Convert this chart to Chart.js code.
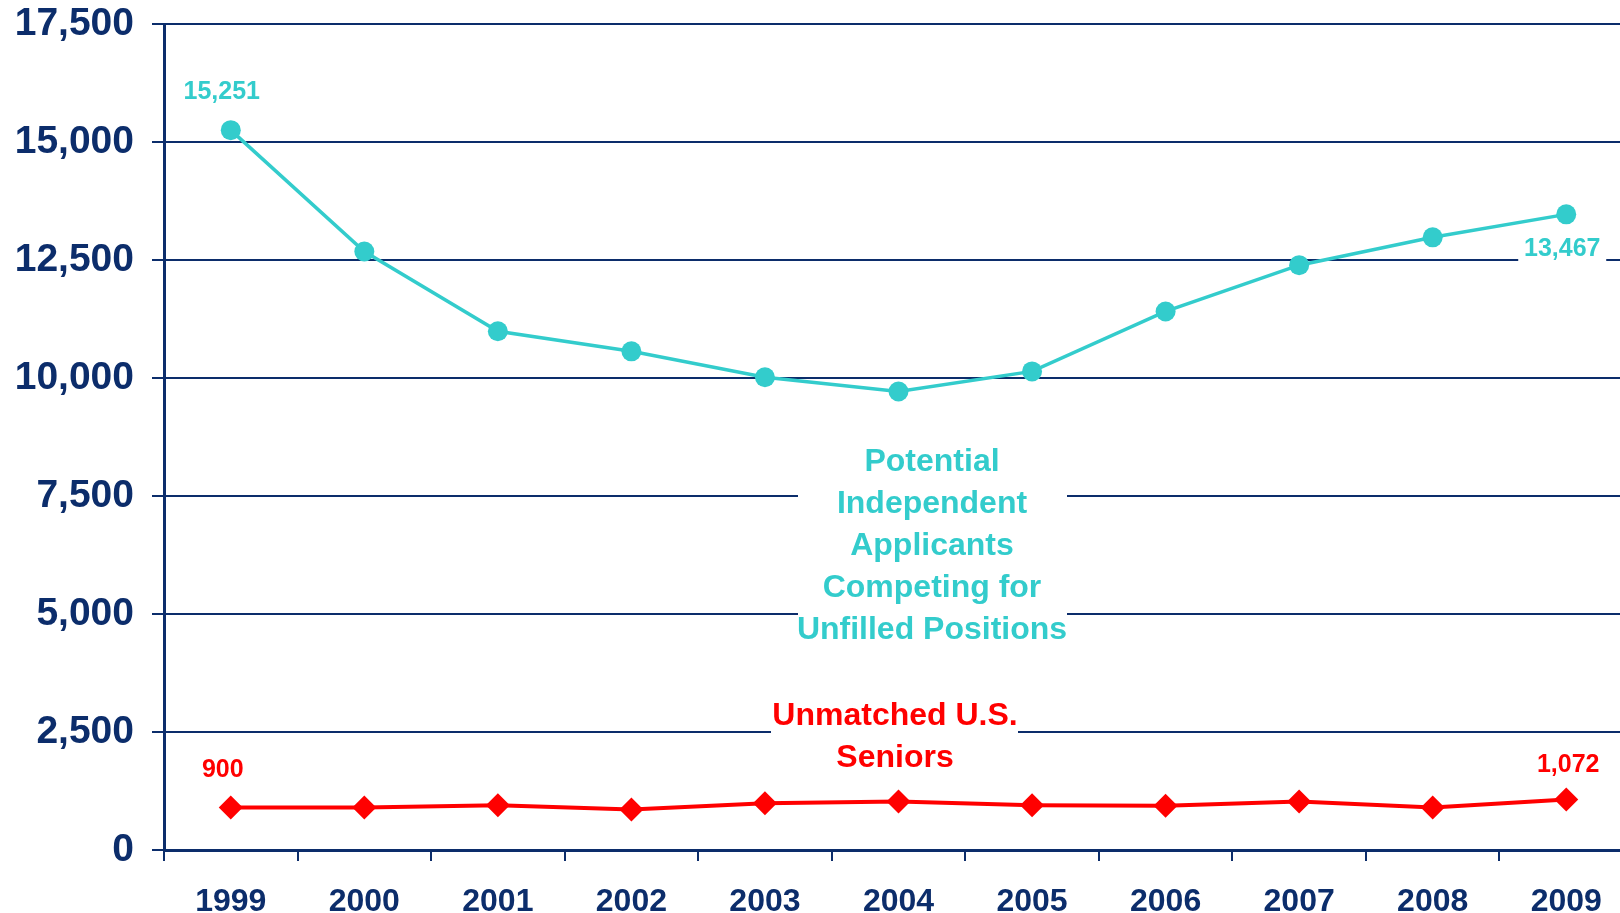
<!DOCTYPE html>
<html>
<head>
<meta charset="utf-8">
<script src="https://cdn.jsdelivr.net/npm/chart.js@4.4.1/dist/chart.umd.min.js"></script>
<style>
  html, body { margin: 0; padding: 0; background: #ffffff; overflow: hidden; width: 1620px; height: 913px; }
  #wrap { position: absolute; left: 0; top: 0; width: 1645px; height: 913px; }
</style>
</head>
<body>
<div id="wrap"><canvas id="c" width="1645" height="913"></canvas></div>
<script>
const years = ['1999','2000','2001','2002','2003','2004','2005','2006','2007','2008','2009'];
const independentApplicants = [15251, 12680, 10990, 10565, 10015, 9715, 10140, 11410, 12390, 12980, 13467];
const unmatchedSeniors = [900, 900, 950, 860, 990, 1025, 950, 935, 1025, 900, 1072];
const yTicks = [0, 2500, 5000, 7500, 10000, 12500, 15000, 17500];

const NAVY = '#0C2D6B';
const TEAL = '#33CCCC';
const RED = '#FF0000';
const FONT = '"Liberation Sans", Arial, Helvetica, sans-serif';

const fmt = v => v.toLocaleString('en-US');

const annotationPlugin = {
  id: 'annot',
  beforeDatasetsDraw(chart) {
    const ctx = chart.ctx;
    const o = chart.options.plugins.annot;
    ctx.save();
    ctx.fillStyle = '#ffffff';
    o.blocks.forEach(b => ctx.fillRect(b.box[0], b.box[1], b.box[2], b.box[3]));
    o.pointLabels.forEach(p => {
      if (p.box) {
        const el = chart.getDatasetMeta(p.ds).data[p.idx];
        ctx.fillRect(el.x + p.dx - p.box[0] / 2, el.y + p.dy - p.box[1] / 2, p.box[0], p.box[1]);
      }
    });
    ctx.restore();
  },
  afterDatasetsDraw(chart) {
    const ctx = chart.ctx;
    const o = chart.options.plugins.annot;
    ctx.save();
    ctx.textAlign = 'center';
    ctx.textBaseline = 'middle';
    o.blocks.forEach(b => {
      ctx.fillStyle = b.color;
      ctx.font = 'bold ' + b.size + 'px ' + FONT;
      b.lines.forEach((t, i) => ctx.fillText(t, b.x, b.y + i * b.lh));
    });
    o.pointLabels.forEach(p => {
      const ds = chart.data.datasets[p.ds];
      const el = chart.getDatasetMeta(p.ds).data[p.idx];
      ctx.fillStyle = ds.borderColor;
      ctx.font = 'bold 25px ' + FONT;
      ctx.fillText(fmt(ds.data[p.idx]), el.x + p.dx, el.y + p.dy);
    });
    ctx.restore();
  }
};

new Chart(document.getElementById('c'), {
  type: 'line',
  data: {
    labels: years,
    datasets: [
      {
        label: 'Potential Independent Applicants Competing for Unfilled Positions',
        data: independentApplicants,
        borderColor: TEAL,
        backgroundColor: TEAL,
        borderWidth: 3.5,
        tension: 0,
        pointStyle: 'circle',
        pointRadius: 10,
        pointBorderWidth: 0,
        pointBackgroundColor: TEAL
      },
      {
        label: 'Unmatched U.S. Seniors',
        data: unmatchedSeniors,
        borderColor: RED,
        backgroundColor: RED,
        borderWidth: 4,
        tension: 0,
        pointStyle: 'rectRot',
        pointRadius: 12,
        pointBorderWidth: 0,
        pointBackgroundColor: RED
      }
    ]
  },
  options: {
    responsive: false,
    animation: false,
    events: [],
    layout: { padding: { top: 24, right: 3, bottom: 0, left: 0 } },
    plugins: {
      legend: { display: false },
      tooltip: { enabled: false },
      annot: {
        blocks: [
          { lines: ['Potential', 'Independent', 'Applicants', 'Competing for', 'Unfilled Positions'],
            x: 932, y: 462, lh: 42, size: 32, color: TEAL, box: [798, 438, 269, 213] },
          { lines: ['Unmatched U.S.', 'Seniors'],
            x: 895, y: 716, lh: 42, size: 32, color: RED, box: [771, 695, 247, 84] }
        ],
        pointLabels: [
          { ds: 0, idx: 0, dx: -9, dy: -38 },
          { ds: 0, idx: 10, dx: -4, dy: 35, box: [88, 30] },
          { ds: 1, idx: 0, dx: -8, dy: -37 },
          { ds: 1, idx: 10, dx: 2, dy: -34 }
        ]
      }
    },
    scales: {
      x: {
        type: 'category',
        offset: true,
        afterFit(s) { s.height = 63; },
        grid: {
          offset: true,
          drawOnChartArea: false,
          drawTicks: true,
          tickLength: 11,
          color: NAVY,
          lineWidth: 2
        },
        border: { display: true, color: NAVY, width: 3 },
        ticks: {
          color: NAVY,
          font: { family: FONT, size: 32, weight: 'bold' },
          padding: 22,
          autoSkip: false,
          maxRotation: 0
        }
      },
      y: {
        min: 0,
        max: 17500,
        afterFit(s) { s.width = 164; s.paddingTop = 0; s.paddingBottom = 0; },
        afterBuildTicks(s) { s.ticks = yTicks.map(v => ({ value: v })); },
        grid: {
          color: NAVY,
          lineWidth: 2,
          drawTicks: true,
          tickLength: 12
        },
        border: { display: true, color: NAVY, width: 3 },
        ticks: {
          color: NAVY,
          font: { family: FONT, size: 39, weight: 'bold' },
          padding: 18,
          callback: v => fmt(v)
        }
      }
    }
  },
  plugins: [annotationPlugin]
});
</script>
</body>
</html>
